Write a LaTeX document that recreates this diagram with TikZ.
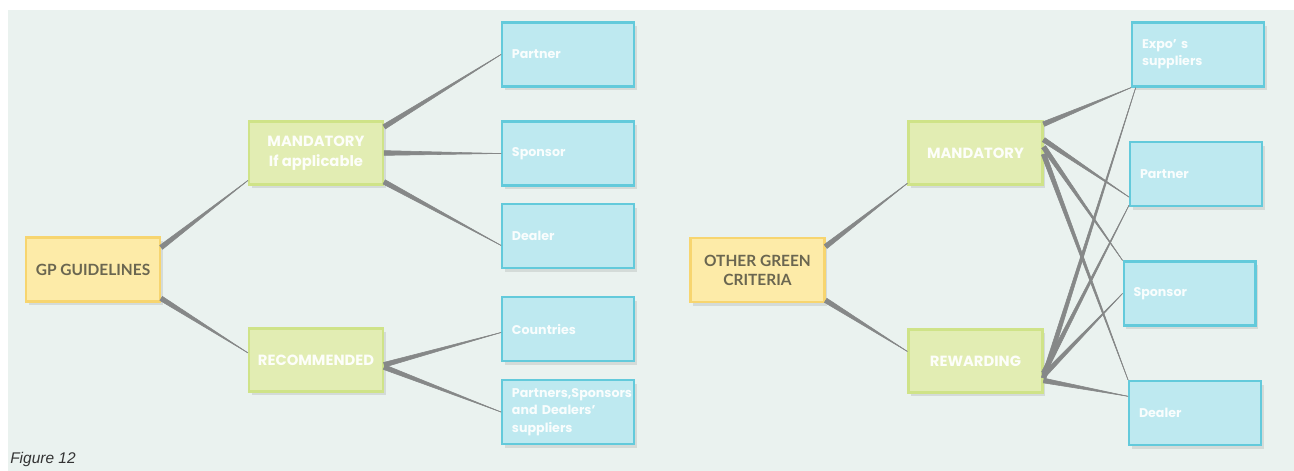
\documentclass[tikz,border=0pt]{standalone}
\usepackage{fontspec}
\setmainfont{Poppins}
\newfontfamily\headfont{Lato}
\newfontfamily\capfont{Liberation Sans}
\usepackage{tikz}
\usetikzlibrary{calc,shadows}

\definecolor{panelbg}{HTML}{EAF2EF}
\definecolor{yfill}{HTML}{FDEBA8}
\definecolor{yedge}{HTML}{F7D56F}
\definecolor{gfill}{HTML}{E2EDB3}
\definecolor{gedge}{HTML}{CFE388}
\definecolor{bfill}{HTML}{BEE9F0}
\definecolor{bedge}{HTML}{63CADB}
\definecolor{linkgray}{HTML}{868888}
\definecolor{ytext}{HTML}{6A6650}

\tikzset{
  box/.style={rectangle, line width=1.6pt, drop shadow={shadow xshift=2pt, shadow yshift=-2.5pt, opacity=0.2}},
  ybox/.style={box, fill=yfill, draw=yedge, minimum width=3.35cm, minimum height=1.6cm, align=center, text=ytext, font=\headfont\bfseries\fontsize{11}{13.5}\selectfont},
  gbox/.style={box, fill=gfill, draw=gedge, minimum width=3.35cm, minimum height=1.575cm, align=center, text=white!94!gfill, font=\bfseries\fontsize{10.5}{14}\selectfont},
  bbox/.style={box, fill=bfill, draw=bedge, text width=2.8cm, inner xsep=7pt, minimum height=1.6cm, align=left, text=white!90!bfill, font=\bfseries\fontsize{9}{12.3}\selectfont},
  link/.style={fill=linkgray, draw=linkgray, line width=0.4pt},
}

% tapered connector, thick at the first node
\newcommand{\taperlink}[3][1.7pt]{%
  \fill[link] ($(#2)!#1!90:(#3)$) -- (#3) -- ($(#2)!#1!-90:(#3)$) -- cycle;
  \draw[link] (#2) -- (#3);}

\begin{document}
\begin{tikzpicture}[x=0.025cm, y=-0.025cm]

\useasboundingbox (0,0) rectangle (1294,471);
\fill[panelbg] (8,10) rectangle (1294,471);

%Left tree
\node[ybox] (gp) at (93,269.5) {GP GUIDELINES};
\node[gbox] (lmand) at (316,153) {MANDATORY\\If applicable};
\node[gbox] (lrec) at (316,360) {RECOMMENDED};
\node[bbox] (lpart) at (568,54.5) {Partner};
\node[bbox] (lspon) at (568,153.5) {Sponsor};
\node[bbox] (ldeal) at (568,236) {Dealer};
\node[bbox] (lcoun) at (568,329) {Countries};
\node[bbox] (lsupp) at (568,412) {Partners,Sponsors\\and Dealers'\\suppliers};

\taperlink{gp.18}{lmand.202}
\taperlink{gp.-23}{lrec.174}
\taperlink{lmand.21}{lpart.west}
\taperlink{lmand.east}{lspon.west}
\taperlink{lmand.-23}{ldeal.188}
\taperlink{lrec.-4}{lcoun.183}
\taperlink{lrec.-6}{lsupp.west}

%Right tree
\node[ybox] (ogc) at (757.5,270) {OTHER GREEN\\CRITERIA};
\node[gbox] (rmand) at (975.5,153) {MANDATORY};
\node[gbox] (rrew) at (975.5,361) {REWARDING};
\node[bbox] (rexpo) at (1198,54.5) {Expo' s\\suppliers};
\node[bbox] (rpart) at (1196,174) {Partner};
\node[bbox] (rspon) at (1189.5,293.5) {Sponsor};
\node[bbox] (rdeal) at (1195,413) {Dealer};

\taperlink{ogc.19}{rmand.204}
\taperlink{ogc.-24}{rrew.172}
\taperlink{rmand.23}{rexpo.south west}
\taperlink{rmand.11}{rpart.199}
\taperlink{rmand.5}{rspon.north west}
\taperlink{rmand.-1}{rdeal.north west}
\taperlink{rrew.-14}{rexpo.208}
\taperlink{rrew.-10}{rpart.205}
\taperlink{rrew.-12}{rspon.west}
\taperlink{rrew.-16}{rdeal.166}

\node[anchor=base west, inner sep=0pt, text=black!80, font=\capfont\itshape\fontsize{11}{13}\selectfont] (figlabel) at (10,463) {Figure 12};

\end{tikzpicture}
\end{document}
